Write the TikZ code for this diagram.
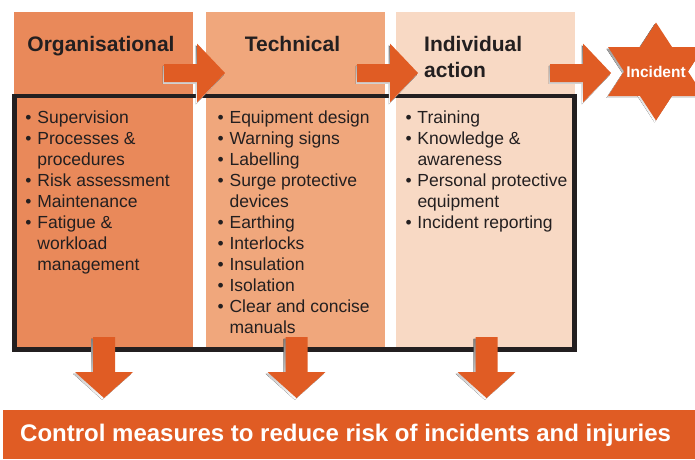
\documentclass[tikz,border=0pt]{standalone}
\usepackage{fontspec}
\setmainfont{Liberation Sans}

\definecolor{orgfill}{HTML}{E9895A}
\definecolor{techfill}{HTML}{F0A77C}
\definecolor{indfill}{HTML}{F8D9C4}
\definecolor{accent}{HTML}{E05C24}
\definecolor{ink}{HTML}{231F20}
\definecolor{shade}{HTML}{C9C5C2}

% bullet marker and matching indent for wrapped lines
\newcommand\lbul{\makebox[12pt][l]{•}}
\newcommand\lgap{\hspace*{12pt}}

\tikzset{
  colbox/.style={rectangle, draw=none, inner sep=0pt, anchor=north west,
    minimum width=179pt, minimum height=335pt},
  head/.style={inner sep=0pt, text=ink, font=\fontsize{21}{26}\selectfont\bfseries},
  % multi-line nodes: the base anchor sits on the last line
  list/.style={inner sep=0pt, text=ink, align=left, anchor=base west,
    font=\fontsize{17.5}{21}\selectfont},
  frame/.style={draw=ink, line width=4.6pt},
  banner/.style={rectangle, fill=accent, inner sep=0pt, anchor=north west,
    minimum width=692pt, minimum height=49pt},
  bannertext/.style={inner sep=0pt, text=white, anchor=base west,
    font=\fontsize{24}{28}\selectfont\bfseries},
  inctext/.style={inner sep=0pt, text=white, font=\fontsize{15.5}{18}\selectfont\bfseries},
  pics/rarrow/.style={code={
    \fill[shade, shift={(-1.2,1.8)}] (0,-9) -- (33,-9) -- (33,-29.5) -- (61,0)
      -- (33,29.5) -- (33,9) -- (0,9) -- cycle;
    \fill[accent] (0,-9) -- (33,-9) -- (33,-29.5) -- (61,0)
      -- (33,29.5) -- (33,9) -- (0,9) -- cycle;
  }},
  pics/darrow/.style={code={
    \fill[shade, shift={(-1.8,1.8)}] (-11,0) -- (11,0) -- (11,35) -- (29,35)
      -- (0,61) -- (-29,35) -- (-11,35) -- cycle;
    \fill[accent] (-11,0) -- (11,0) -- (11,35) -- (29,35)
      -- (0,61) -- (-29,35) -- (-11,35) -- cycle;
  }},
  pics/hexstar/.style={code={
    \fill[shade, shift={(-1.5,1.8)}] (0,-49) -- (48,24.5) -- (-48,24.5) -- cycle
      (0,49) -- (48,-24.5) -- (-48,-24.5) -- cycle;
    \fill[accent] (0,-49) -- (48,24.5) -- (-48,24.5) -- cycle;
    \fill[accent] (0,49) -- (48,-24.5) -- (-48,-24.5) -- cycle;
  }},
}

\begin{document}
\begin{tikzpicture}[x=1pt, y=-1pt]
\useasboundingbox (0,0) rectangle (695,459);

% three category columns
\node[colbox, fill=orgfill] (org) at (14,12) {};
\node[colbox, fill=techfill] (tech) at (206,12) {};
\node[colbox, fill=indfill] (ind) at (396,12) {};

% column headings
\node[head, anchor=base] (orgtitle) at (101,51.5) {Organisational};
\node[head, anchor=base] (techtitle) at (292.5,51.5) {Technical};
\node[head, anchor=base west, align=left] (indtitle) at (424,77.5) {Individual\\action};

% measures in each column (positioned by the baseline of the last line)
\node[list] (orglist) at (25.2,270) {\lbul Supervision\\
  \lbul Processes \&\\
  \lgap procedures\\
  \lbul Risk assessment\\
  \lbul Maintenance\\
  \lbul Fatigue \&\\
  \lgap workload\\
  \lgap management};
\node[list] (techlist) at (217.4,333) {\lbul Equipment design\\
  \lbul Warning signs\\
  \lbul Labelling\\
  \lbul Surge protective\\
  \lgap devices\\
  \lbul Earthing\\
  \lbul Interlocks\\
  \lbul Insulation\\
  \lbul Isolation\\
  \lbul Clear and concise\\
  \lgap manuals};
\node[list] (indlist) at (405.3,228) {\lbul Training\\
  \lbul Knowledge \&\\
  \lgap awareness\\
  \lbul Personal protective\\
  \lgap equipment\\
  \lbul Incident reporting};

% frame around the lists
\draw[frame] (14.5,96) rectangle (574.5,349.5);

% arrows leading to the incident
\coordinate (ra1) at (164,73);
\coordinate (ra2) at (357,73);
\coordinate (ra3) at (550,73);
\pic at (ra1) {rarrow};
\pic at (ra2) {rarrow};
\pic at (ra3) {rarrow};

% incident star
\coordinate (inc) at (656,71.5);
\pic at (inc) {hexstar};
\node[inctext] (incident) at (inc) {Incident};

% arrows down to the control measures
\coordinate (da1) at (104,337);
\coordinate (da2) at (296.5,337);
\coordinate (da3) at (486.5,337);
\pic at (da1) {darrow};
\pic at (da2) {darrow};
\pic at (da3) {darrow};

% control measures banner
\node[banner] (control) at (3,410) {};
\node[bannertext] (controltext) at (20,441) {Control measures to reduce risk of incidents and injuries};
\end{tikzpicture}
\end{document}
